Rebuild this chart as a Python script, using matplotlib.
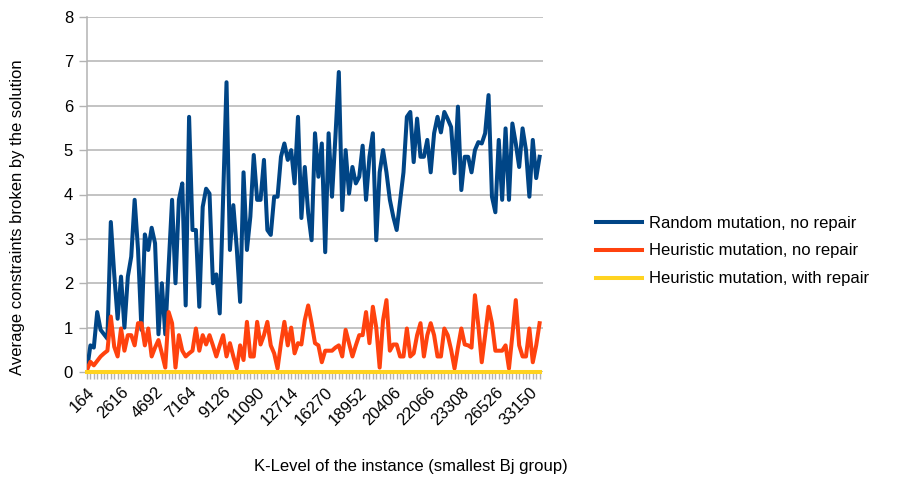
import numpy as np
import matplotlib
matplotlib.use("Agg")
import matplotlib.pyplot as plt

plt.rcParams["font.family"] = ["Liberation Sans", "DejaVu Sans"]

# K-level labels shown on the category axis (every 10th instance)
k_labels = ["164", "2616", "4692", "7164", "9126", "11090", "12714",
            "16270", "18952", "20406", "22066", "23308", "26526", "33150"]
label_step = 10

random_no_repair = [
    0.05, 0.6, 0.55, 1.35, 0.95, 0.85, 0.75, 3.38, 2.2, 1.2,
    2.15, 1.0, 2.15, 2.6, 3.88, 2.75, 0.95, 3.1, 2.75, 3.25,
    2.9, 0.85, 2.0, 0.85, 2.4, 3.88, 2.0, 3.88, 4.25, 1.5,
    5.75, 3.2, 3.2, 1.47, 3.72, 4.13, 4.02, 2.0, 2.2, 1.32,
    3.9, 6.53, 2.75, 3.76, 2.8, 1.58, 4.5, 2.75, 3.5, 4.89,
    3.88, 3.88, 4.78, 3.2, 3.09, 3.95, 3.95, 4.85, 5.15, 4.78,
    5.0, 4.25, 5.75, 3.47, 4.62, 3.58, 2.97, 5.38, 4.4, 5.15,
    2.7, 5.38, 3.95, 5.3, 6.76, 3.65, 5.0, 4.02, 4.62, 4.25,
    4.4, 5.1, 3.88, 4.85, 5.38, 2.97, 4.5, 5.0, 4.5, 3.88,
    3.5, 3.2, 3.85, 4.5, 5.75, 5.86, 4.73, 5.71, 4.85, 4.85,
    5.23, 4.5, 5.38, 5.75, 5.4, 5.86, 5.7, 5.52, 4.48, 5.98,
    4.1, 4.85, 4.85, 4.5, 5.0, 5.18, 5.15, 5.38, 6.24, 3.95,
    3.6, 5.23, 3.88, 5.49, 3.88, 5.6, 5.15, 4.62, 5.49, 5.0,
    3.95, 5.23, 4.37, 4.85,
]

heuristic_no_repair = [
    0.05, 0.23, 0.15, 0.25, 0.35, 0.42, 0.48, 1.25, 0.57, 0.35,
    0.98, 0.48, 0.83, 0.83, 0.6, 1.1, 1.1, 0.6, 0.98, 0.35,
    0.55, 0.72, 0.42, 0.1, 1.35, 1.1, 0.1, 0.83, 0.48, 0.35,
    0.42, 0.48, 0.98, 0.48, 0.83, 0.62, 0.83, 0.6, 0.35, 0.6,
    0.83, 0.35, 0.65, 0.35, 0.08, 0.6, 0.27, 1.13, 0.35, 0.35,
    1.13, 0.62, 0.83, 1.13, 0.6, 0.42, 0.08, 0.65, 1.13, 0.6,
    1.0, 0.42, 0.65, 0.62, 1.17, 1.5, 1.1, 0.65, 0.6, 0.22,
    0.48, 0.48, 0.48, 0.55, 0.6, 0.35, 0.95, 0.65, 0.35, 0.6,
    0.83, 0.83, 1.35, 0.65, 1.47, 1.0, 0.1, 1.17, 1.62, 0.48,
    0.62, 0.62, 0.35, 0.35, 0.98, 0.35, 0.42, 0.83, 1.1, 0.35,
    0.83, 1.1, 0.83, 0.35, 0.35, 0.98, 0.83, 0.5, 0.08, 0.55,
    0.98, 0.62, 0.6, 0.55, 1.73, 1.05, 0.22, 0.83, 1.47, 1.1,
    0.48, 0.48, 0.48, 0.6, 0.08, 0.83, 1.62, 0.6, 0.35, 0.35,
    0.98, 0.22, 0.6, 1.1,
]

heuristic_with_repair = [0.0] * len(random_no_repair)

n = len(random_no_repair)
x = np.arange(n)

fig = plt.figure(figsize=(9.13, 4.79), dpi=100)
ax = fig.add_axes([87 / 913, 1 - 372 / 479, 456 / 913, 355 / 479])

grid_col = "#b3b3b3"
ax.set_ylim(0, 8)
ax.set_xlim(0, n)
ax.set_yticks(range(0, 9))
ax.yaxis.grid(True, color=grid_col, linewidth=1.1)
ax.set_axisbelow(True)

for side in ("top", "right", "bottom"):
    ax.spines[side].set_visible(False)
ax.spines["left"].set_color(grid_col)
ax.spines["left"].set_linewidth(1.1)

ax.plot(x, random_no_repair, color="#004586", lw=2.9,
        solid_joinstyle="round", label="Random mutation, no repair", zorder=3)
ax.plot(x, heuristic_no_repair, color="#ff420e", lw=2.9,
        solid_joinstyle="round", label="Heuristic mutation, no repair", zorder=4)
ax.plot(x, heuristic_with_repair, color="#ffd320", lw=2.9,
        label="Heuristic mutation, with repair", zorder=5, clip_on=False)

# category ticks: one per instance, labels on every 10th
ax.set_xticks(x, minor=True)
ax.set_xticks(x[::label_step][:len(k_labels)])
ax.set_xticklabels(k_labels, rotation=45, ha="right", rotation_mode="anchor",
                   fontsize=12)
ax.tick_params(axis="x", which="both", length=5, color=grid_col, width=1.0,
               direction="out", pad=4)
ax.tick_params(axis="y", length=6, color=grid_col, width=1.0, labelsize=12,
               pad=4)

fig.text(411 / 913, 1 - 466 / 479, "K-Level of the instance (smallest Bj group)",
         ha="center", va="center", fontsize=12)
fig.text(18 / 913, 1 - 217 / 479, "Average constraints broken by the solution",
         ha="center", va="center", rotation=90, fontsize=12)

fig.legend(loc="center left", bbox_to_anchor=(596 / 913, 1 - 251 / 479),
           frameon=False, fontsize=12, handlelength=2.75, handletextpad=0.45,
           labelspacing=0.78, borderaxespad=0, borderpad=0)

fig.savefig("out.png", dpi=100)
